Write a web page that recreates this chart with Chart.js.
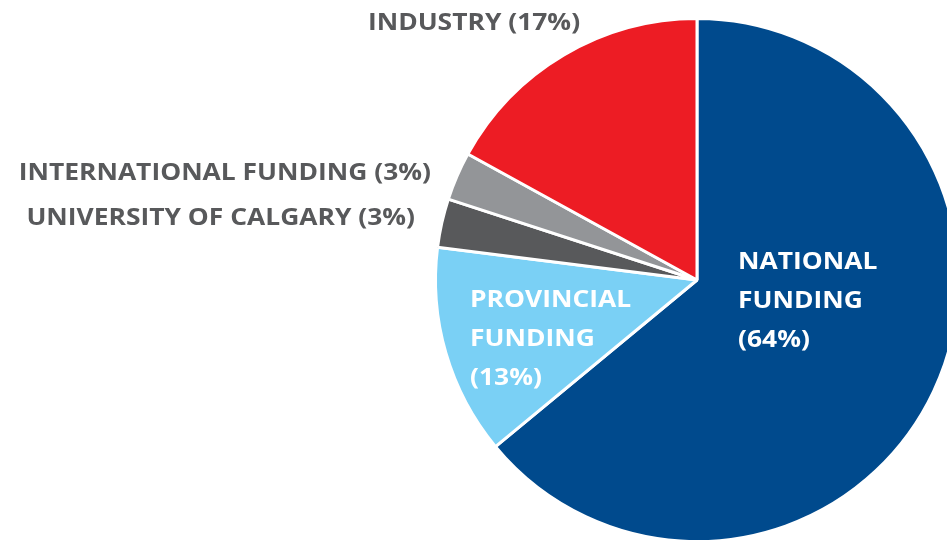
<!DOCTYPE html>
<html>
<head>
<meta charset="utf-8">
<script src="https://cdn.jsdelivr.net/npm/chart.js@4"></script>
<style>
  html, body { margin: 0; padding: 0; background: #fff; overflow: hidden; }
  #wrap { width: 980px; height: 560px; }
</style>
</head>
<body>
<div id="wrap"><canvas id="myChart" width="980" height="560"></canvas></div>
<script>
// funding sources, clockwise from 12 o'clock
var categories = ['NATIONAL FUNDING', 'PROVINCIAL FUNDING', 'UNIVERSITY OF CALGARY', 'INTERNATIONAL FUNDING', 'INDUSTRY'];
var shares = [64, 13, 3, 3, 17];
var sliceColors = ['#004a8d', '#7ad0f5', '#58595b', '#939598', '#ed1c24'];

// label text per slice
var labelLines = [
    ['NATIONAL', 'FUNDING', '(64%)'],
    ['PROVINCIAL', 'FUNDING', '(13%)'],
    ['UNIVERSITY OF CALGARY (3%)'],
    ['INTERNATIONAL FUNDING (3%)'],
    ['INDUSTRY (17%)']
];
// placement relative to the pie centre (first line), alignment, colour
var labelSpots = [
    { dx: 41, dy: -18, align: 'left', color: '#ffffff' },
    { dx: -227, dy: 20, align: 'left', color: '#ffffff' },
    { dx: -282, dy: -62, align: 'right', color: '#58595b' },
    { dx: -266, dy: -107, align: 'right', color: '#58595b' },
    { dx: -223, dy: -257, align: 'center', color: '#58595b' }
];

var pieLabels = {
    id: 'pieLabels',
    afterDatasetsDraw: function (chart) {
        var ctx = chart.ctx;
        var arcs = chart.getDatasetMeta(0).data;
        var cx = arcs[0].x, cy = arcs[0].y;
        var stretch = 1.1; // original face is wider than Open Sans
        ctx.save();
        ctx.font = 'bold 24px "Open Sans"';
        ctx.textBaseline = 'middle';
        labelLines.forEach(function (lines, i) {
            var s = labelSpots[i];
            ctx.fillStyle = s.color;
            ctx.textAlign = s.align;
            lines.forEach(function (t, j) {
                ctx.save();
                ctx.translate(cx + s.dx, cy + s.dy + j * 39);
                ctx.scale(stretch, 1);
                ctx.fillText(t, 0, 0);
                ctx.restore();
            });
        });
        ctx.restore();
    }
};

var ctx = document.getElementById('myChart').getContext('2d');
var myChart = new Chart(ctx, {
    type: 'pie',
    data: {
        labels: categories,
        datasets: [{
            data: shares,
            backgroundColor: sliceColors,
            borderColor: '#ffffff',
            borderWidth: 3,
            hoverOffset: 0
        }]
    },
    options: {
        responsive: false,
        animation: false,
        events: [],
        layout: { padding: { left: 434, top: 17, right: 20, bottom: 17 } },
        plugins: {
            legend: { display: false },
            tooltip: { enabled: false }
        }
    },
    plugins: [pieLabels]
});
</script>
</body>
</html>
